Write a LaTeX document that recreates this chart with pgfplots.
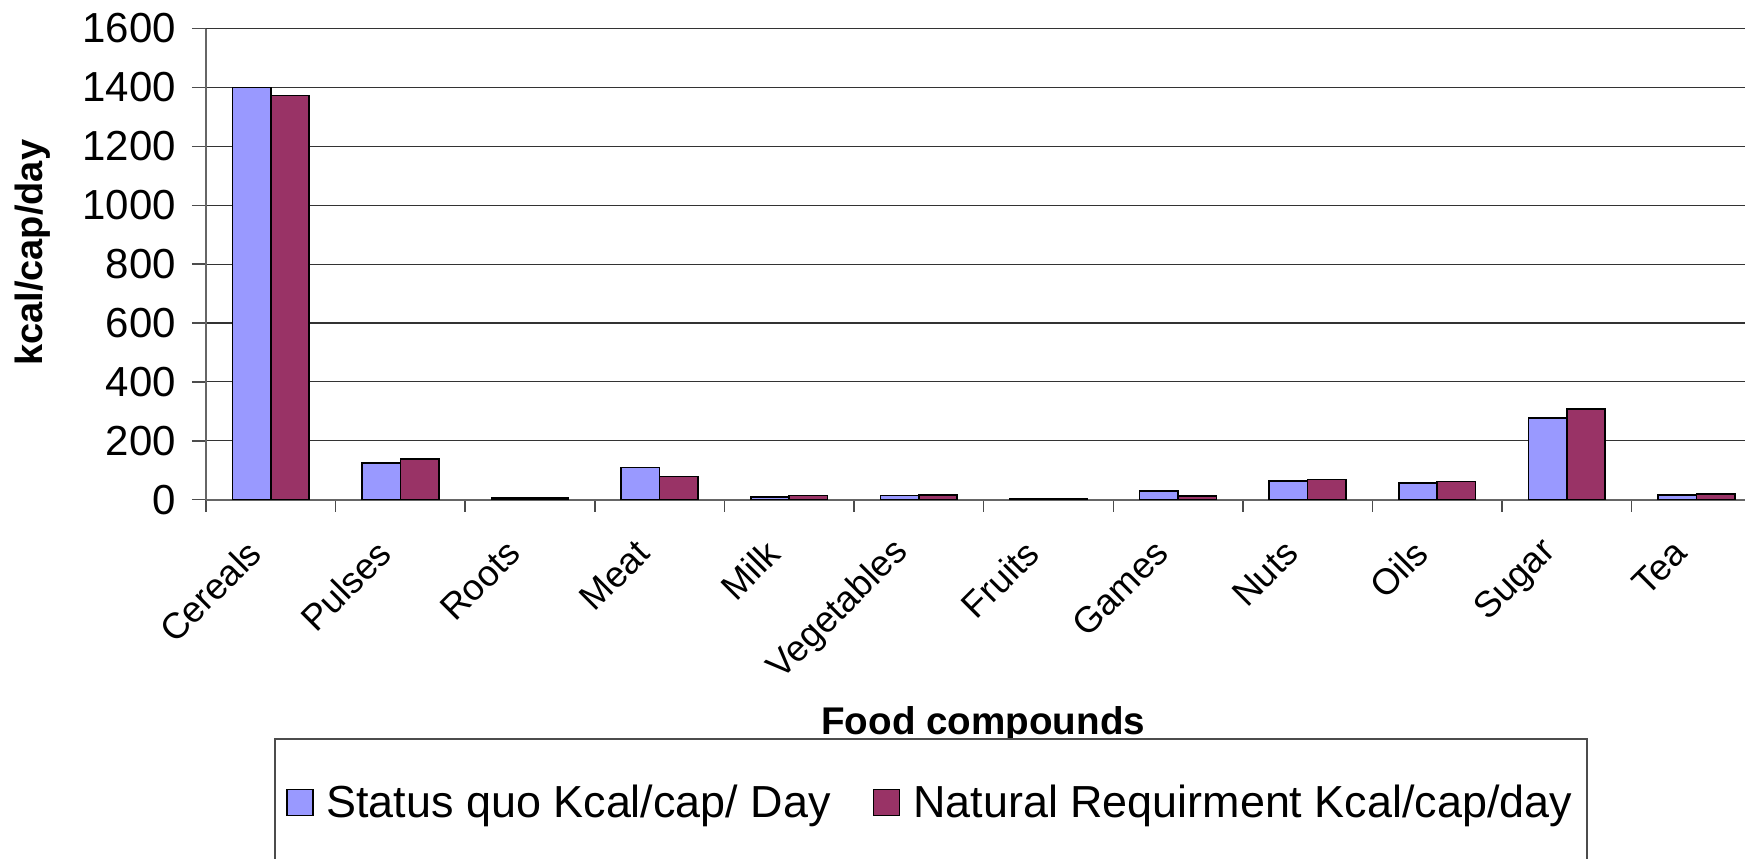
\documentclass[border=0pt]{standalone}
\usepackage{pgfplots}
\pgfplotsset{compat=1.18}
\usepackage{fontspec}
\setmainfont{Liberation Sans}
\definecolor{sq}{HTML}{9999FF}
\definecolor{nr}{HTML}{993366}
\begin{document}
\begin{tikzpicture}
\begin{axis}[
  scale only axis,
  width=769.5pt, height=235.6pt,
  xmin=-0.5, xmax=11.375, ymin=0, ymax=1600,
  axis x line=bottom, axis y line=left,
  axis line style={-, black!60, line width=0.9pt},
  ybar=0pt, bar width=19.2pt,
  ytick={0,200,...,1600},
  ymajorgrids, major grid style={black!80, line width=0.55pt},
  xtick={0,...,11},
  xticklabels={Cereals,Pulses,Roots,Meat,Milk,Vegetables,Fruits,Games,Nuts,Oils,Sugar,Tea},
  minor xtick={-0.5,0.5,...,10.5},
  tick align=outside, tick pos=left,
  major tick length=7pt, minor tick length=6pt,
  major x tick style={draw=none},
  minor x tick style={black!70, line width=0.7pt},
  major y tick style={black!70, line width=0.7pt},
  /pgf/number format/assume math mode=true,
  /pgf/number format/1000 sep={},
  yticklabel style={font=\fontsize{21}{25}\selectfont, xshift=-4.5pt},
  xticklabel style={font=\fontsize{18.2}{22}\selectfont, rotate=45, anchor=east, inner sep=0pt, xshift=-17.3pt, yshift=-6pt},
  xlabel={Food compounds},
  ylabel={kcal/cap/day},
  xlabel style={font=\bfseries\fontsize{19.3}{23}\selectfont, at={(axis description cs:0.505,-0.478)}, anchor=center},
  ylabel style={font=\bfseries\fontsize{19}{23}\selectfont, at={(axis description cs:-0.1125,0.524)}, anchor=center},
  legend columns=2,
  legend style={at={(axis description cs:0.4711,-0.506)}, anchor=north, draw=black!70, line width=0.7pt, fill=white,
    font=\fontsize{22.45}{26}\selectfont, inner xsep=5.5pt, inner ysep=21pt,
    /tikz/every even column/.append style={column sep=19pt}},
]
\addplot[fill=sq, draw=black, line width=0.8pt,
  legend image code/.code={\draw[fill=sq, draw=black, line width=0.8pt] (0pt,-6.5pt) rectangle (13pt,6.5pt); \path (17.5pt,0pt);}]
  coordinates {(0,1400) (1,125) (2,6) (3,110) (4,10) (5,14) (6,3) (7,30) (8,64) (9,56) (10,277) (11,16)};
\addplot[fill=nr, draw=black, line width=0.8pt,
  legend image code/.code={\draw[fill=nr, draw=black, line width=0.8pt] (0pt,-6.5pt) rectangle (13pt,6.5pt); \path (17.5pt,0pt);}]
  coordinates {(0,1372) (1,138) (2,6) (3,79) (4,14) (5,15) (6,3) (7,13) (8,69) (9,62) (10,309) (11,19)};
\legend{Status quo Kcal/cap/ Day, Natural Requirment Kcal/cap/day}
\end{axis}
\pgfresetboundingbox
\path[use as bounding box] ([shift={(-103pt,-179.15pt)}]current axis.south west) rectangle ([shift={(0pt,14.25pt)}]current axis.north east);
\end{tikzpicture}
\end{document}
